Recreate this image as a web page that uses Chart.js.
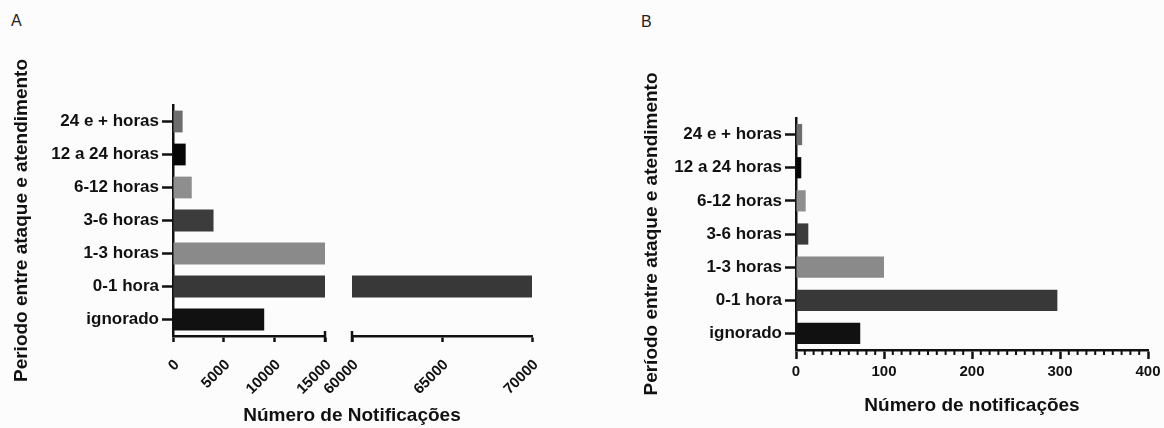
<!DOCTYPE html>
<html lang="pt">
<head>
<meta charset="utf-8">
<title>Período entre ataque e atendimento</title>
<script src="https://cdn.jsdelivr.net/npm/chart.js@4.4.1/dist/chart.umd.min.js"></script>
<style>
  html, body { margin: 0; padding: 0; background: #fcfcfc; overflow: hidden; }
  body { width: 1164px; height: 428px; position: relative; font-family: "Liberation Sans", Arial, sans-serif; }
  canvas { position: absolute; top: 0; }
  .letra { position: absolute; font-size: 16px; color: #222; }
  .titulo-x { position: absolute; font-weight: bold; font-size: 19px; color: #111; transform: translateX(-50%); white-space: nowrap; }
</style>
</head>
<body>
<div class="letra" style="left:11px;top:12px">A</div>
<div class="letra" style="left:641px;top:13px">B</div>
<canvas id="graficoA1" width="345" height="428" style="left:0"></canvas>
<canvas id="graficoA2" width="270" height="428" style="left:290px"></canvas>
<canvas id="graficoB" width="540" height="428" style="left:630px"></canvas>
<div class="titulo-x" style="left:352px;top:404px">Número de Notificações</div>

<script>
const categorias = ["24 e + horas", "12 a 24 horas", "6-12 horas", "3-6 horas", "1-3 horas", "0-1 hora", "ignorado"];
const notificacoesA = [950, 1250, 1850, 4000, 21000, 70000, 9000];
const notificacoesB = [7, 6, 11, 14, 100, 297, 73];
const coresBarras = ["#6e6e6e", "#070707", "#8e8e8e", "#3c3c3c", "#8a8a8a", "#383838", "#111111"];

// eixo x do painel A cortado em dois trechos
const ticksTrechoEsq = [0, 5000, 10000, 15000];
const ticksTrechoDir = [60000, 65000, 70000];
const ticksB = [0, 100, 200, 300, 400];
const passoMenorB = 10;

const PRETO = "#111";
const fonteEixoY = { family: '"Liberation Sans", Arial, sans-serif', weight: "bold", size: 17 };
const fonteEixoX = { family: '"Liberation Sans", Arial, sans-serif', weight: "bold", size: 15 };
const fonteTitulo = { family: '"Liberation Sans", Arial, sans-serif', weight: "bold", size: 19 };

Chart.defaults.color = PRETO;

function dataset(valores, espessura) {
    return {
        data: valores,
        backgroundColor: coresBarras,
        borderWidth: 0,
        categoryPercentage: 1,
        barPercentage: espessura,
        clip: 0,
    };
}

function eixoY(titulo, padTitulo, largura) {
    return {
        grid: { drawOnChartArea: false, offset: false, tickLength: 11, tickWidth: 2.5, tickColor: PRETO },
        border: { color: PRETO, width: 2.5 },
        ticks: { font: fonteEixoY, color: PRETO, padding: 3 },
        title: { display: true, text: titulo, font: fonteTitulo, color: PRETO, padding: { top: padTitulo, bottom: 0 } },
        afterFit: (s) => { s.width = largura; },
    };
}

function eixoX(ticksLista, altura) {
    return {
        min: ticksLista[0],
        max: ticksLista[ticksLista.length - 1],
        afterBuildTicks: (s) => { s.ticks = ticksLista.map((v) => ({ value: v })); },
        grid: { drawOnChartArea: false, tickLength: 6, tickWidth: 2.5, tickColor: PRETO },
        border: { color: PRETO, width: 2.5 },
        ticks: { font: fonteEixoX, color: PRETO, minRotation: 45, maxRotation: 45, autoSkip: false,
                 padding: 14, labelOffset: 4, callback: (v) => String(v) },
        afterFit: (s) => { s.height = altura; s.paddingLeft = 0; s.paddingRight = 0; },
    };
}

// traço vertical nas pontas do corte do eixo
function tracoQuebra(valor) {
    return {
        id: "tracoQuebra",
        afterDraw(chart) {
            const x = chart.scales.x;
            const px = x.getPixelForValue(valor);
            const ctx = chart.ctx;
            ctx.save();
            ctx.strokeStyle = PRETO;
            ctx.lineWidth = 2.5;
            ctx.beginPath();
            ctx.moveTo(px, x.top - 5);
            ctx.lineTo(px, x.top + 6);
            ctx.stroke();
            ctx.restore();
        },
    };
}

const semLegenda = { legend: { display: false }, tooltip: { enabled: false } };

new Chart(document.getElementById("graficoA1"), {
    type: "bar",
    data: { labels: categorias, datasets: [dataset(notificacoesA, 0.66)] },
    options: {
        indexAxis: "y",
        responsive: false,
        animation: false,
        layout: { padding: { top: 105, right: 20, bottom: 0, left: 0 } },
        plugins: semLegenda,
        scales: {
            y: eixoY("Periodo entre ataque e atendimento", 10, 173),
            x: eixoX(ticksTrechoEsq, 92),
        },
    },
    plugins: [tracoQuebra(ticksTrechoEsq[ticksTrechoEsq.length - 1])],
});

new Chart(document.getElementById("graficoA2"), {
    type: "bar",
    data: { labels: categorias, datasets: [dataset(notificacoesA, 0.66)] },
    options: {
        indexAxis: "y",
        responsive: false,
        animation: false,
        layout: { padding: { top: 105, right: 28, bottom: 0, left: 62 } },
        plugins: semLegenda,
        scales: {
            y: { display: false },
            x: eixoX(ticksTrechoDir, 92),
        },
    },
    plugins: [tracoQuebra(ticksTrechoDir[0])],
});

new Chart(document.getElementById("graficoB"), {
    type: "bar",
    data: { labels: categorias, datasets: [dataset(notificacoesB, 0.64)] },
    options: {
        indexAxis: "y",
        responsive: false,
        animation: false,
        layout: { padding: { top: 118, right: 22, bottom: 0, left: 0 } },
        plugins: semLegenda,
        scales: {
            y: eixoY("Período entre ataque e atendimento", 10.6, 166),
            x: {
                min: ticksB[0],
                max: ticksB[ticksB.length - 1],
                afterBuildTicks: (s) => { s.ticks = ticksB.map((v) => ({ value: v })); },
                grid: { drawOnChartArea: false, tickLength: 9, tickWidth: 2.5, tickColor: PRETO },
                border: { color: PRETO, width: 2.5 },
                ticks: { font: fonteEixoX, color: PRETO, padding: 4, maxRotation: 0, callback: (v) => String(v) },
                title: { display: true, text: "Número de notificações", font: fonteTitulo,
                         color: PRETO, padding: { top: 0, bottom: 11 } },
                afterFit: (s) => { s.height = 78; },
            },
        },
    },
    plugins: [{
        id: "ticksMenores",
        afterDraw(chart) {
            const x = chart.scales.x;
            const ctx = chart.ctx;
            ctx.save();
            ctx.strokeStyle = PRETO;
            ctx.lineWidth = 2;
            ctx.beginPath();
            for (let v = x.min; v <= x.max; v += passoMenorB) {
                if (ticksB.includes(v)) continue;
                const px = x.getPixelForValue(v);
                ctx.moveTo(px, x.top);
                ctx.lineTo(px, x.top + 5);
            }
            ctx.stroke();
            ctx.restore();
        },
    }],
});
</script>
</body>
</html>
